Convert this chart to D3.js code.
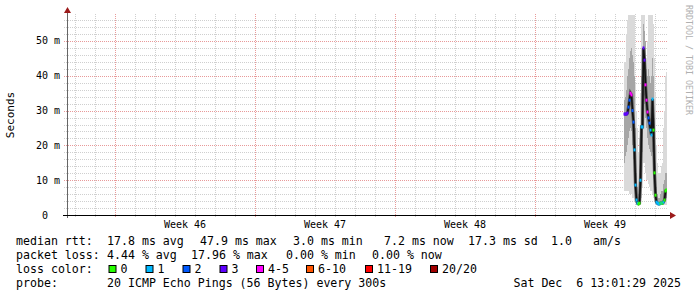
<!DOCTYPE html>
<html>
<head>
<meta charset="utf-8">
<script src="https://cdn.jsdelivr.net/npm/d3@7"></script>
<style>
body { margin: 0; background: #fff; }
text { font-family: "DejaVu Sans Mono", monospace; white-space: pre; }
</style>
</head>
<body>
<script>
// ---- data (ms), one value per 4320 s step ----
const dataStart = Date.UTC(2025, 11, 4, 10, 48);
const stepSec = 4320;
const median  = [29, 29, 29, 29.3, 31, 33, 35, 34.5, 30, 26.7, 18.7, 8.6, 4.3, 3.4, 3.2, 3.4, 10, 25.3, 25.3, 48, 44.5, 37.4, 33, 29.6, 27.9, 26.4, 24.4, 23, 33.3, 24.4, 12.1, 5.7, 3.7, 3.4, 3.2, 3.2, 3.4, 3.4, 3.4, 3.7, 4.3, 6.9, 7.2];
const pingMin = [7, 7, 7, 7, 7, 6, 6, 6, 5, 5, 4, 3.5, 3, 2.8, 2.8, 2.8, 3, 5, 8, 15, 15, 12, 10, 10, 9, 8, 7, 7, 6, 5, 4, 3, 2.8, 2.8, 2.8, 2.8, 2.8, 2.8, 2.8, 2.9, 3, 3, 3];
const pingLow = [15, 17, 18, 20, 22, 24, 25, 24, 20, 16, 10, 5, 3.5, 3.1, 3, 3.1, 4, 12, 18, 35, 32, 28, 25, 22, 20, 19, 18, 17, 18, 12, 6, 4, 3.2, 3.1, 3, 3, 3.1, 3.1, 3.1, 3.3, 3.5, 4.5, 5];
const pingHigh = [33, 34, 36, 40, 42, 45, 47, 48, 46, 44, 40, 25, 12, 8, 6, 8, 18, 40, 45, 55, 53, 50, 42, 40, 42, 40, 38, 40, 45, 40, 28, 14, 8, 6, 5, 5, 6, 7, 7, 9, 10, 12, 12];
const pingMax = [44, 44, 52, 56, 60, 60, 60, 60, 60, 60, 60, 38, 30, 25, 18, 22, 35, 60, 60, 60, 60, 50, 45, 50, 60, 60, 60, 60, 60, 55, 45, 35, 20, 15, 12, 12, 12, 14, 15, 25, 30, 40, 41];
const lossCount = [3, 3, 3, 3, 2, 2, 5, 5, 2, 2, 1, 1, 1, 1, 0, 0, 1, 1, 1, 3, 3, 5, 5, 5, 2, 2, 1, 1, 1, 0, 0, 0, 1, 1, 1, 1, 0, 1, 0, 1, 0, 0, 0];

const lossLabels = ['0', '1', '2', '3', '4-5', '6-10', '11-19', '20/20'];
const lossColors = ['#26ff00', '#00b8ff', '#0059ff', '#5e00ff', '#ff00ff', '#ff5500', '#ff0000', '#a10000'];
const yTicks = [0, 10, 20, 30, 40, 50];

const rttStats  = ['17.8 ms avg', '47.9 ms max', '3.0 ms min', '7.2 ms now', '17.3 ms sd', '1.0', 'am/s'];
const lossStats = ['4.44 % avg', '17.96 % max', '0.00 % min', '0.00 % now'];
const probeText = '20 ICMP Echo Pings (56 Bytes) every 300s';
const dateText = 'Sat Dec  6 13:01:29 2025';

const width = 697, height = 297;
const plotL = 67, plotR = 667, plotT = 15, plotB = 215;

const timeStart = new Date(Date.UTC(2025, 10, 6, 14, 24));
const timeEnd = new Date(Date.UTC(2025, 11, 6, 14, 24));

const x = d3.scaleUtc().domain([timeStart, timeEnd]).range([plotL, plotR]);
const y = d3.scaleLinear().domain([0, 57.47]).range([plotB, plotT]);

function lossBin(n) {
  if (n <= 3) return n;
  if (n <= 5) return 4;
  if (n <= 10) return 5;
  if (n <= 19) return 6;
  return 7;
}

const data = median.map(function(m, i) {
  return {
    t: new Date(dataStart + i * stepSec * 1000),
    med: m, min: pingMin[i], low: pingLow[i], high: pingHigh[i], max: pingMax[i],
    loss: lossCount[i]
  };
});

const svg = d3.select('body').append('svg')
  .attr('width', width)
  .attr('height', height);

svg.append('rect').attr('width', width).attr('height', height).attr('fill', '#fff');

svg.append('clipPath').attr('id', 'plot')
  .append('rect').attr('x', plotL).attr('y', plotT).attr('width', plotR - plotL).attr('height', plotB - plotT);

// grid
const grid = svg.append('g');
const minorDays = d3.utcDay.range(timeStart, timeEnd);
const majorWeeks = d3.utcSunday.range(timeStart, timeEnd);
const minorY = d3.range(2, 57, 2).filter(function(v) { return v % 10 !== 0; });

grid.selectAll('line.vmin')
  .data(minorDays.filter(function(d) { return d.getUTCDay() !== 0; }))
  .join('line')
  .attr('x1', function(d) { return Math.round(x(d)) + 0.5; })
  .attr('x2', function(d) { return Math.round(x(d)) + 0.5; })
  .attr('y1', plotT - 1).attr('y2', plotB + 3)
  .attr('stroke', '#cfcfcf').attr('stroke-dasharray', '1,1');

grid.selectAll('line.hmin')
  .data(minorY)
  .join('line')
  .attr('x1', plotL - 3).attr('x2', plotR + 1)
  .attr('y1', function(d) { return Math.round(y(d)) + 0.5; })
  .attr('y2', function(d) { return Math.round(y(d)) + 0.5; })
  .attr('stroke', '#cfcfcf').attr('stroke-dasharray', '1,1');

grid.selectAll('line.vmaj')
  .data(majorWeeks)
  .join('line')
  .attr('x1', function(d) { return Math.round(x(d)) + 0.5; })
  .attr('x2', function(d) { return Math.round(x(d)) + 0.5; })
  .attr('y1', plotT - 1).attr('y2', plotB + 3)
  .attr('stroke', '#e89a9a').attr('stroke-dasharray', '1,1');

grid.selectAll('line.hmaj')
  .data(yTicks.slice(1))
  .join('line')
  .attr('x1', plotL - 3).attr('x2', plotR + 1)
  .attr('y1', function(d) { return Math.round(y(d)) + 0.5; })
  .attr('y2', function(d) { return Math.round(y(d)) + 0.5; })
  .attr('stroke', '#e89a9a').attr('stroke-dasharray', '1,1');

// smoke
const smoke = svg.append('g').attr('clip-path', 'url(#plot)');
function colW(d) { return x(new Date(+d.t + stepSec * 1000)) - x(d.t); }

smoke.selectAll('rect.outer')
  .data(data)
  .join('rect')
  .attr('x', function(d) { return x(d.t); })
  .attr('width', colW)
  .attr('y', function(d) { return y(d.max); })
  .attr('height', function(d) { return y(d.min) - y(d.max); })
  .attr('fill', '#dadada')
  .attr('shape-rendering', 'crispEdges');

smoke.selectAll('rect.inner')
  .data(data)
  .join('rect')
  .attr('x', function(d) { return x(d.t); })
  .attr('width', colW)
  .attr('y', function(d) { return y(d.high); })
  .attr('height', function(d) { return y(d.low) - y(d.high); })
  .attr('fill', '#a6a6a6')
  .attr('shape-rendering', 'crispEdges');

const line = d3.line()
  .x(function(d) { return x(d.t) + colW(d) / 2; })
  .y(function(d) { return y(d.med); });

smoke.append('path')
  .datum(data)
  .attr('d', line)
  .attr('fill', 'none')
  .attr('stroke', '#555')
  .attr('stroke-width', 3.2);

smoke.append('path')
  .datum(data)
  .attr('d', line)
  .attr('fill', 'none')
  .attr('stroke', '#111')
  .attr('stroke-width', 1.6);

smoke.selectAll('rect.med')
  .data(data)
  .join('rect')
  .attr('x', function(d) { return x(d.t) - 0.5; })
  .attr('width', 2)
  .attr('y', function(d) { return y(d.med) - 1.5; })
  .attr('height', 3)
  .attr('fill', function(d) { return lossColors[lossBin(d.loss)]; });

// axes
svg.append('line')
  .attr('x1', plotL + 0.5).attr('x2', plotL + 0.5)
  .attr('y1', plotB + 3).attr('y2', 11)
  .attr('stroke', '#666');
svg.append('path')
  .attr('d', 'M' + (plotL - 3) + ',13 L' + (plotL + 4) + ',13 L' + (plotL + 0.5) + ',7 Z')
  .attr('fill', '#9c1b1b');

svg.append('line')
  .attr('x1', plotL - 4).attr('x2', plotR + 5)
  .attr('y1', plotB + 0.5).attr('y2', plotB + 0.5)
  .attr('stroke', '#000');
svg.append('path')
  .attr('d', 'M' + (plotR + 3) + ',' + (plotB - 3) + ' L' + (plotR + 3) + ',' + (plotB + 4) + ' L' + (plotR + 9) + ',' + (plotB + 0.5) + ' Z')
  .attr('fill', '#9c1b1b');

// y labels
const ylab = svg.append('g').attr('font-size', 10).attr('fill', '#000');
ylab.selectAll('text.num')
  .data(yTicks)
  .join('text')
  .attr('x', 48)
  .attr('y', function(d) { return y(d) + 3.5; })
  .attr('text-anchor', 'end')
  .text(function(d) { return d; });
ylab.selectAll('text.unit')
  .data(yTicks.slice(1))
  .join('text')
  .attr('x', 54)
  .attr('y', function(d) { return y(d) + 3.5; })
  .text('m');

svg.append('text')
  .attr('transform', 'translate(14,' + ((plotT + plotB) / 2) + ') rotate(-90)')
  .attr('text-anchor', 'middle')
  .attr('font-size', 11)
  .text('Seconds');

// x labels
svg.append('g').attr('font-size', 10)
  .selectAll('text')
  .data(majorWeeks)
  .join('text')
  .attr('x', function(d) { return x(d3.utcHour.offset(d, 84)); })
  .attr('y', 228)
  .attr('text-anchor', 'middle')
  .text(function(d) { return 'Week ' + d3.utcFormat('%V')(d3.utcHour.offset(d, 84)); });

// watermark
svg.append('text')
  .attr('transform', 'translate(686,5) rotate(90)')
  .attr('font-size', 8.3)
  .attr('fill', '#b0b0b0')
  .text('RRDTOOL / TOBI OETIKER');

// legend
const legend = svg.append('g').attr('font-size', 11.6).attr('fill', '#000');
const rttX = [107, 200, 293, 384, 468, 551, 593];
const lossX = [107, 191, 286, 372];

legend.append('text').attr('x', 16).attr('y', 245).text('median rtt:');
legend.selectAll('text.rtt').data(rttStats).join('text')
  .attr('x', function(d, i) { return rttX[i]; }).attr('y', 245).text(function(d) { return d; });

legend.append('text').attr('x', 16).attr('y', 259).text('packet loss:');
legend.selectAll('text.pl').data(lossStats).join('text')
  .attr('x', function(d, i) { return lossX[i]; }).attr('y', 259).text(function(d) { return d; });

legend.append('text').attr('x', 16).attr('y', 273).text('loss color:');
const swatchX = [108.5, 145.5, 182.5, 219.5, 256, 306, 365, 430];
const sw = legend.selectAll('g.sw').data(lossLabels).join('g');
sw.append('rect')
  .attr('x', function(d, i) { return swatchX[i] + 0.5; })
  .attr('y', 265.5)
  .attr('width', 7).attr('height', 7)
  .attr('fill', function(d, i) { return lossColors[i]; })
  .attr('stroke', '#000');
sw.append('text')
  .attr('x', function(d, i) { return swatchX[i] + 12; })
  .attr('y', 273)
  .text(function(d) { return d; });

legend.append('text').attr('x', 16).attr('y', 287).text('probe:');
legend.append('text').attr('x', 107).attr('y', 287).text(probeText);
legend.append('text').attr('x', 681).attr('y', 287).attr('text-anchor', 'end').text(dateText);
</script>
</body>
</html>
